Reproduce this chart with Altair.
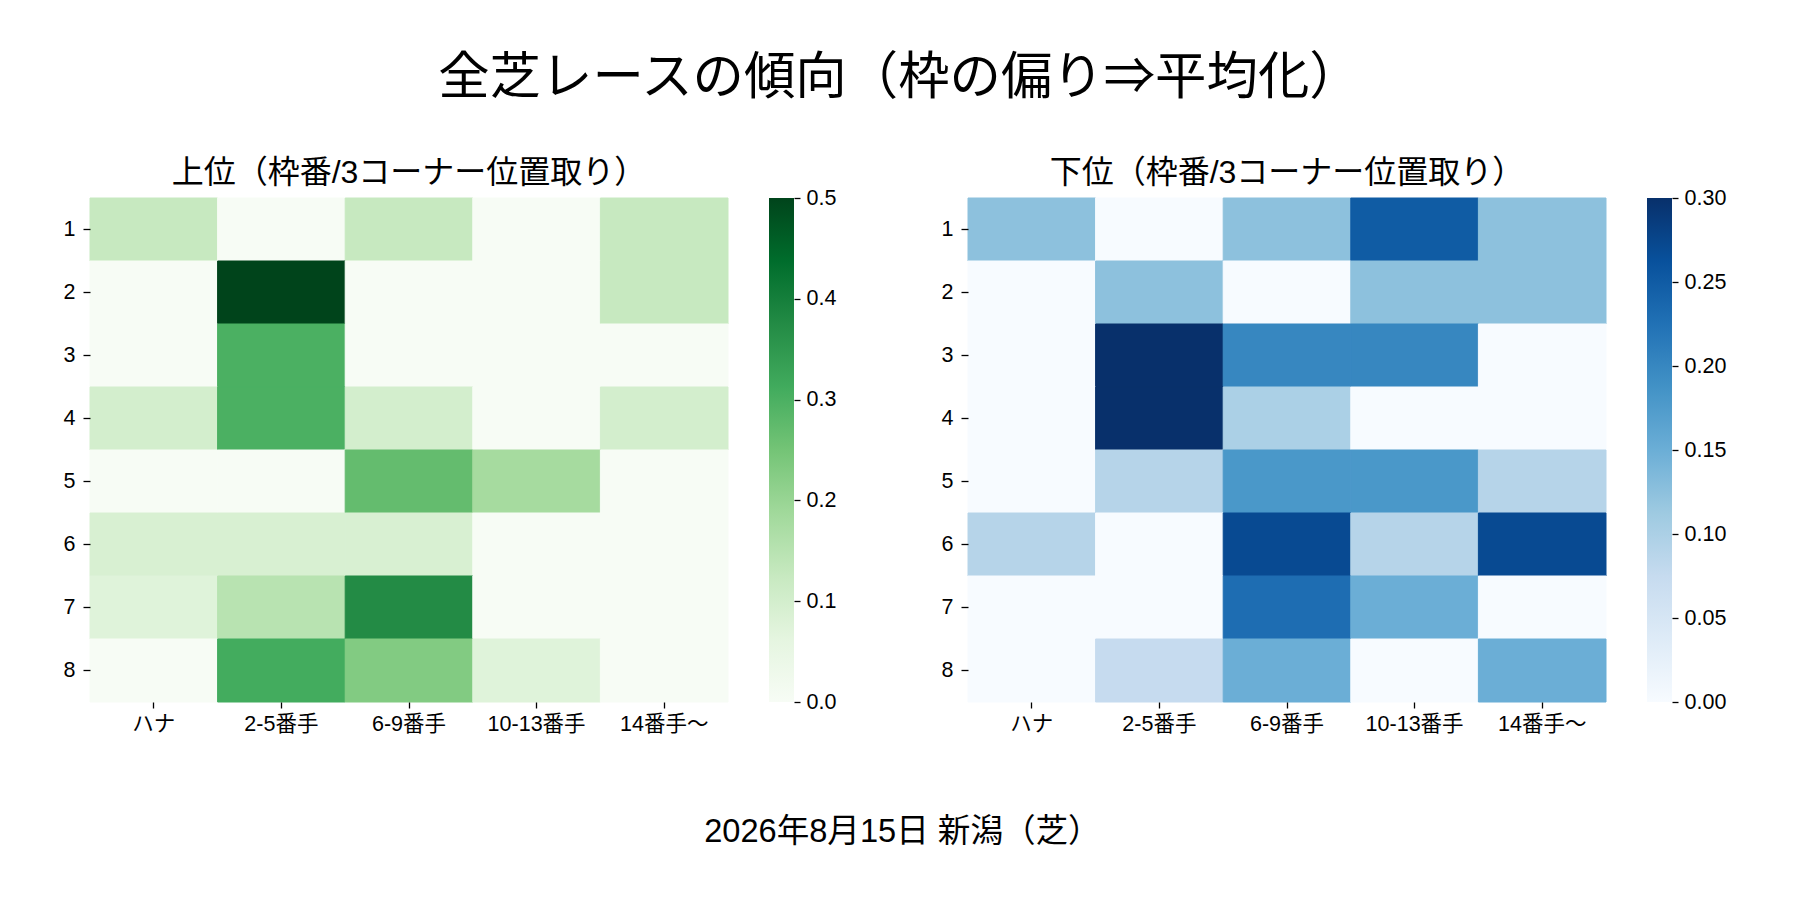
import altair as alt
import pandas as pd

FONT = "'Liberation Sans', 'Noto Sans CJK JP', sans-serif"

main_title = "全芝レースの傾向（枠の偏り⇒平均化）"
top_title = "上位（枠番/3コーナー位置取り）"
bottom_title = "下位（枠番/3コーナー位置取り）"
footer = "2026年8月15日 新潟（芝）"

positions = ["ハナ", "2-5番手", "6-9番手", "10-13番手", "14番手〜"]
frames = ["1", "2", "3", "4", "5", "6", "7", "8"]

# share of horses per frame (row) and 3rd-corner position (column)
top_values = [
    [0.125, 0.0, 0.125, 0.0, 0.125],
    [0.0, 0.5, 0.0, 0.0, 0.125],
    [0.0, 0.30, 0.0, 0.0, 0.0],
    [0.10, 0.30, 0.10, 0.0, 0.10],
    [0.0, 0.0, 0.27, 0.18, 0.0],
    [0.09, 0.09, 0.09, 0.0, 0.0],
    [0.075, 0.15, 0.375, 0.0, 0.0],
    [0.0, 0.31, 0.23, 0.075, 0.0],
]
bottom_values = [
    [0.125, 0.0, 0.125, 0.25, 0.125],
    [0.0, 0.125, 0.0, 0.125, 0.125],
    [0.0, 0.30, 0.20, 0.20, 0.0],
    [0.0, 0.30, 0.10, 0.0, 0.0],
    [0.0, 0.09, 0.18, 0.18, 0.09],
    [0.09, 0.0, 0.27, 0.09, 0.27],
    [0.0, 0.0, 0.23, 0.15, 0.0],
    [0.0, 0.075, 0.15, 0.0, 0.15],
]

greens = ["#f7fcf5", "#e5f5e0", "#c7e9c0", "#a1d99b", "#74c476",
          "#41ab5d", "#238b45", "#006d2c", "#00441b"]
blues = ["#f7fbff", "#deebf7", "#c6dbef", "#9ecae1", "#6baed6",
         "#4292c6", "#2171b5", "#08519c", "#08306b"]
green_stops = [0, 0.0625, 0.125, 0.1875, 0.25, 0.3125, 0.375, 0.4375, 0.5]
blue_stops = [0, 0.0375, 0.075, 0.1125, 0.15, 0.1875, 0.225, 0.2625, 0.3]
green_ticks = [0.0, 0.1, 0.2, 0.3, 0.4, 0.5]
blue_ticks = [0.0, 0.05, 0.10, 0.15, 0.20, 0.25, 0.30]

HM_W, HM_H = 638, 504
CB_W = 25
TICK_FS = 21.5


def to_long(values):
    rows = []
    for frame, row in zip(frames, values):
        for pos, v in zip(positions, row):
            rows.append({"frame": frame, "pos": pos, "value": v})
    return pd.DataFrame(rows)


def heatmap(values, title, stops, colors):
    scale = alt.Scale(domain=stops, range=colors, interpolate="rgb")
    return (
        alt.Chart(to_long(values))
        .mark_rect()
        .encode(
            x=alt.X("pos:N", sort=positions, title=None,
                    scale=alt.Scale(paddingInner=0, paddingOuter=0),
                    axis=alt.Axis(labelAngle=0, domain=False, tickSize=6,
                                  labelPadding=5, labelFontSize=TICK_FS)),
            y=alt.Y("frame:N", sort=frames, title=None,
                    scale=alt.Scale(paddingInner=0, paddingOuter=0),
                    axis=alt.Axis(domain=False, tickSize=7, labelPadding=8,
                                  labelFontSize=TICK_FS)),
            color=alt.Color("value:Q", legend=None, scale=scale),
            stroke=alt.Color("value:Q", legend=None, scale=scale),
        )
        .properties(width=HM_W, height=HM_H,
                    title=alt.TitleParams(title, fontSize=32, offset=8,
                                          fontWeight="normal"))
    )


def colorbar(ticks, fmt, colors):
    grad = alt.LinearGradient(
        gradient="linear",
        stops=[alt.GradientStop(color=c, offset=i / (len(colors) - 1))
               for i, c in enumerate(colors)],
        x1=0, x2=0, y1=1, y2=0,
    )
    df = pd.DataFrame({"lo": [ticks[0]], "hi": [ticks[-1]]})
    return (
        alt.Chart(df)
        .mark_rect(color=grad)
        .encode(
            x=alt.value(0),
            x2=alt.value(CB_W),
            y=alt.Y("lo:Q", title=None,
                    scale=alt.Scale(domain=[ticks[0], ticks[-1]], nice=False, zero=False),
                    axis=alt.Axis(orient="right", values=ticks, format=fmt,
                                  domain=False, grid=False, tickSize=6,
                                  labelPadding=6, labelFontSize=TICK_FS)),
            y2="hi:Q",
        )
        .properties(width=CB_W, height=HM_H)
    )


left = alt.hconcat(
    heatmap(top_values, top_title, green_stops, greens),
    colorbar(green_ticks, ".1f", greens),
    spacing=40,
)
right = alt.hconcat(
    heatmap(bottom_values, bottom_title, blue_stops, blues),
    colorbar(blue_ticks, ".2f", blues),
    spacing=40,
)

row = alt.hconcat(
    left, right, spacing=105,
    title=alt.TitleParams(footer, orient="bottom", anchor="middle",
                          fontSize=32.6, fontWeight="normal", offset=81, dx=8),
).resolve_scale(color="independent", stroke="independent")

chart = (
    alt.vconcat(
        row,
        title=alt.TitleParams(main_title, anchor="middle", fontSize=51.4,
                              fontWeight="normal", offset=52, dx=5),
    )
    .properties(padding={"left": 55, "top": 45, "right": 10, "bottom": 10})
    .configure(font=FONT)
    .configure_view(stroke=None)
    .configure_axis(labelColor="black", tickColor="black", tickWidth=1.3,
                    labelFont=FONT, grid=False)
    .configure_title(color="black", font=FONT)
)

chart.save("out.html", embed_options={"renderer": "svg", "actions": False})
